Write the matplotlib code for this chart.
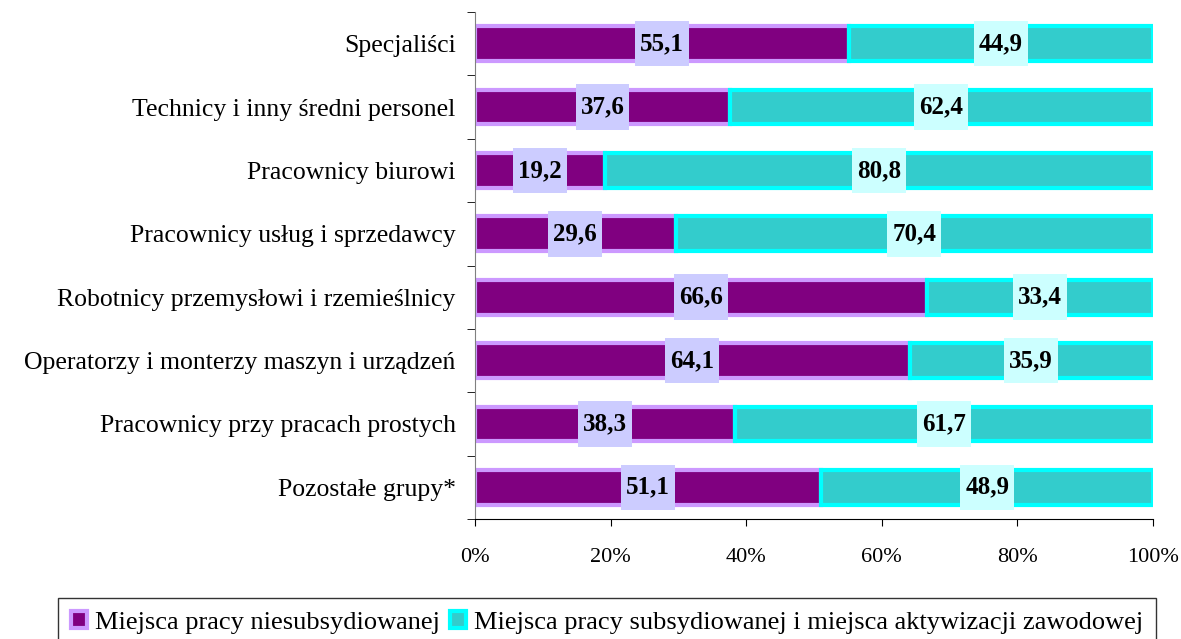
import matplotlib.pyplot as plt
import numpy as np
from matplotlib.path import Path

plt.rcParams['font.family'] = ['Liberation Serif', 'DejaVu Serif']

categories = ['Specjaliści', 'Technicy i inny średni personel', 'Pracownicy biurowi',
              'Pracownicy usług i sprzedawcy', 'Robotnicy przemysłowi i rzemieślnicy',
              'Operatorzy i monterzy maszyn i urządzeń', 'Pracownicy przy pracach prostych',
              'Pozostałe grupy*']
niesubs = [55.1, 37.6, 19.2, 29.6, 66.6, 64.1, 38.3, 51.1]
subs = [44.9, 62.4, 80.8, 70.4, 33.4, 35.9, 61.7, 48.9]
series_names = ['Miejsca pracy niesubsydiowanej',
                'Miejsca pracy subsydiowanej i miejsca aktywizacji zawodowej']


# label box: tight sideways, tall like the bar
def label_box(x0, y0, width, height, mutation_size):
    px = 0.2 * mutation_size
    py = 0.45 * mutation_size
    x0, y0 = x0 - px, y0 - py
    x1, y1 = x0 + width + 2 * px, y0 + height + 2 * py
    return Path([(x0, y0), (x1, y0), (x1, y1), (x0, y1), (x0, y0)], closed=True)


fig = plt.figure(figsize=(11.81, 6.39), dpi=100)
ax = fig.add_axes([0.4022, 0.1878, 0.5741, 0.7934])

y = np.arange(len(categories))
h = 0.55
b1 = ax.barh(y, niesubs, height=h, color='#800080', edgecolor='#CC99FF', linewidth=3,
             label=series_names[0])
b2 = ax.barh(y, subs, left=niesubs, height=h, color='#33CCCC', edgecolor='#00FFFF',
             linewidth=3, label=series_names[1])

for i in range(len(categories)):
    ax.text(niesubs[i] / 2, y[i], f'{niesubs[i]:.1f}'.replace('.', ','), ha='center',
            va='center', fontsize=18, fontweight='bold',
            bbox=dict(boxstyle=label_box, fc='#CCCCFF', ec='none'))
    ax.text(niesubs[i] + subs[i] / 2, y[i], f'{subs[i]:.1f}'.replace('.', ','), ha='center',
            va='center', fontsize=18, fontweight='bold',
            bbox=dict(boxstyle=label_box, fc='#CCFFFF', ec='none'))

ax.set_xlim(0, 100)
ax.set_ylim(len(categories) - 0.5, -0.5)
ax.set_xticks(np.arange(0, 101, 20))
ax.set_xticklabels([f'{v}%' for v in range(0, 101, 20)], fontsize=16)
ax.tick_params(axis='x', pad=16, length=5)
ax.set_yticks(y)
ax.set_yticklabels(categories, fontsize=18.5)
ax.tick_params(axis='y', length=0, pad=14)
ax.set_yticks(np.arange(-0.5, len(categories)), minor=True)
ax.tick_params(axis='y', which='minor', length=6, direction='out')
for s in ['top', 'right']:
    ax.spines[s].set_visible(False)
ax.spines['left'].set_color('#808080')

leg = fig.legend(handles=[b1, b2], loc='upper center', bbox_to_anchor=(0.514, 0.064),
                 ncol=2, fontsize=19, frameon=True, fancybox=False, edgecolor='black',
                 handlelength=0.6, handleheight=0.6, handletextpad=0.3, columnspacing=0.4,
                 borderpad=0.5, borderaxespad=0)
leg.get_frame().set_linewidth(1)

fig.savefig('out.png', dpi=100)
